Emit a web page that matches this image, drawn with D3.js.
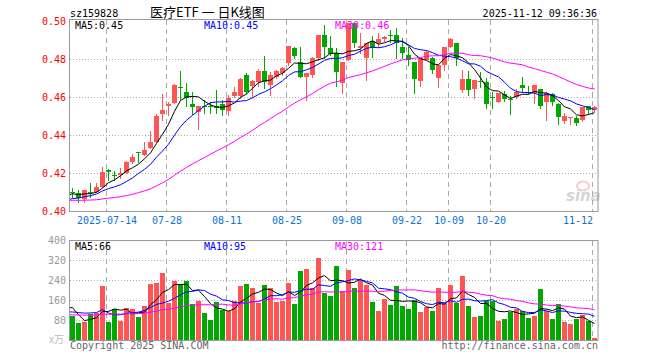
<!DOCTYPE html>
<html>
<head>
<meta charset="utf-8">
<script src="https://cdn.jsdelivr.net/npm/d3@7"></script>
<style>
  body { margin: 0; background: #fff; }
  svg { display: block; }
</style>
</head>
<body>
<svg id="chart" width="660" height="360"></svg>
<script>
// trading days shown, 2025-07-04 .. 2025-11-12
const dates = [
  '07-04','07-07','07-08','07-09','07-10','07-11','07-14','07-15','07-16','07-17',
  '07-18','07-21','07-22','07-23','07-24','07-25','07-28','07-29','07-30','07-31',
  '08-01','08-04','08-05','08-06','08-07','08-08','08-11','08-12','08-13','08-14',
  '08-15','08-18','08-19','08-20','08-21','08-22','08-25','08-26','08-27','08-28',
  '08-29','09-01','09-02','09-03','09-04','09-05','09-08','09-09','09-10','09-11',
  '09-12','09-15','09-16','09-17','09-18','09-19','09-22','09-23','09-24','09-25',
  '09-26','09-29','09-30','10-09','10-10','10-13','10-14','10-15','10-16','10-17',
  '10-20','10-21','10-22','10-23','10-24','10-27','10-28','10-29','10-30','10-31',
  '11-03','11-04','11-05','11-06','11-07','11-10','11-11','11-12'
];

const open = [
  .4098,.4096,.4063,.4100,.4098,.4125,.4214,.4188,.4188,.4202,
  .4258,.4309,.4293,.4333,.4365,.4509,.4555,.4570,.4651,.4625,
  .4565,.4523,.4553,.4555,.4553,.4564,.4528,.4605,.4605,.4716,
  .4658,.4681,.4739,.4663,.4704,.4725,.4777,.4860,.4786,.4707,
  .4716,.4804,.4926,.4860,.4830,.4675,.4795,.4988,.4856,.4807,
  .4896,.4882,.4904,.4928,.4926,.4865,.4821,.4786,.4684,.4795,
  .4804,.4698,.4768,.4865,.4882,.4637,.4693,.4640,.4684,.4677,
  .4600,.4575,.4616,.4590,.4598,.4663,.4628,.4619,.4640,.4575,
  .4616,.4563,.4475,.4488,.4488,.4479,.4553,.4532
];
const high = [
  .4123,.4110,.4110,.4146,.4150,.4233,.4221,.4212,.4225,.4263,
  .4298,.4312,.4365,.4421,.4509,.4615,.4572,.4668,.4737,.4672,
  .4626,.4553,.4584,.4575,.4638,.4584,.4611,.4651,.4700,.4728,
  .4689,.4747,.4816,.4733,.4740,.4760,.4868,.4865,.4865,.4728,
  .4809,.4926,.4979,.4921,.4856,.4786,.4991,.4991,.4935,.4882,
  .4921,.4935,.4921,.4953,.4961,.4909,.4865,.4786,.4804,.4847,
  .4812,.4768,.4865,.4909,.4882,.4742,.4735,.4690,.4733,.4700,
  .4628,.4623,.4630,.4605,.4640,.4707,.4660,.4663,.4640,.4628,
  .4620,.4570,.4518,.4496,.4500,.4546,.4553,.4555
];
const low = [
  .4075,.4046,.4046,.4075,.4098,.4125,.4163,.4163,.4172,.4202,
  .4251,.4260,.4293,.4333,.4365,.4479,.4505,.4570,.4590,.4555,
  .4510,.4430,.4514,.4514,.4514,.4505,.4505,.4600,.4593,.4619,
  .4602,.4660,.4646,.4611,.4700,.4716,.4768,.4804,.4704,.4584,
  .4704,.4795,.4804,.4821,.4658,.4623,.4795,.4865,.4830,.4690,
  .4812,.4865,.4896,.4891,.4803,.4803,.4768,.4623,.4658,.4795,
  .4728,.4651,.4742,.4865,.4768,.4628,.4610,.4596,.4650,.4540,
  .4543,.4575,.4580,.4510,.4596,.4628,.4615,.4570,.4540,.4480,
  .4560,.4458,.4462,.4458,.4453,.4475,.4510,.4528
];
const close = [
  .4094,.4067,.4110,.4096,.4125,.4207,.4207,.4184,.4202,.4258,
  .4286,.4305,.4321,.4361,.4502,.4532,.4565,.4663,.4646,.4596,
  .4545,.4553,.4549,.4550,.4540,.4534,.4594,.4626,.4696,.4628,
  .4686,.4739,.4677,.4716,.4739,.4754,.4868,.4818,.4707,.4728,
  .4804,.4926,.4865,.4826,.4733,.4786,.4991,.4882,.4868,.4882,
  .4856,.4903,.4918,.4924,.4882,.4833,.4795,.4693,.4804,.4839,
  .4742,.4768,.4865,.4904,.4804,.4693,.4635,.4688,.4682,.4565,
  .4598,.4623,.4588,.4586,.4628,.4646,.4624,.4663,.4553,.4619,
  .4575,.4496,.4500,.4496,.4465,.4546,.4532,.4549
];
// volume, x10k shares
const volume = [
  97,69,73,103,107,216,72,124,77,128,
  124,92,136,225,229,269,149,237,224,237,
  144,157,108,80,152,120,118,155,216,224,
  208,150,220,208,154,156,229,144,277,284,
  208,328,190,176,296,196,280,208,239,220,
  152,116,165,140,216,136,124,159,112,133,
  116,208,149,220,149,256,136,92,96,155,
  155,75,84,112,123,116,88,95,205,115,
  84,144,71,64,84,99,75,8
];
// sessions before 07-04 (not drawn), estimated from where the MA lines start
const priorClose = [
  .408,.408,.408,.408,.408,.408,.408,.408,.408,.408,
  .404,.404,.404,.404,.404,.404,.400,.400,.400,.400,
  .404,.404,.404,.404,.404,.409,.409,.409,.409
];
const priorVolume = [
  95,95,95,95,95,95,95,95,95,95,
  95,95,95,95,95,95,95,95,95,95,
  95,95,95,95,95,210,190,80,70
];

const priceTicks = [0.40, 0.42, 0.44, 0.46, 0.48, 0.50];
const volumeTicks = [80, 160, 240, 320, 400];
const dateTicks = ['07-14','07-28','08-11','08-25','09-08','09-22','10-09','10-20','11-12'];

const RED = '#ff5555', GREEN = '#00a800';
const MONO = '"DejaVu Sans Mono", monospace';
const maDefs = [
  { n: 5, color: '#000000', lx: 75 },
  { n: 10, color: '#0000ff', lx: 204 },
  { n: 30, color: '#ff00ff', lx: 335 }
];

const svg = d3.select('#chart');
const N = dates.length;
const L = 70, R = 598;
const x = d3.scaleLinear().domain([0, N]).range([L, R]);
const yP = d3.scaleLinear().domain([0.40, 0.50]).range([211, 21]);
const yV = d3.scaleLinear().domain([0, 400]).range([340, 240]);

const candles = dates.map((d, i) => ({
  i, d, o: open[i], h: high[i], l: low[i], c: close[i], v: volume[i],
  up: close[i] >= open[i]
}));

function movingAvg(prior, vals, n) {
  const all = prior.concat(vals), k = prior.length;
  return d3.range(-1, vals.length).map(i => {
    const end = k + i + 1;
    return { i, v: d3.mean(all.slice(Math.max(0, end - n), end)) };
  });
}

svg.append('rect').attr('width', 660).attr('height', 360).attr('fill', '#fff');

const defs = svg.append('defs');
defs.append('clipPath').attr('id', 'clipP')
  .append('rect').attr('x', L).attr('y', 19).attr('width', R - L).attr('height', 192);
defs.append('clipPath').attr('id', 'clipV')
  .append('rect').attr('x', L).attr('y', 240).attr('width', R - L).attr('height', 100);

// header
svg.append('text').attr('x', 70).attr('y', 17)
  .attr('font-family', MONO).attr('font-size', '10px').attr('fill', '#000')
  .text('sz159828');
svg.append('text').attr('x', 150).attr('y', 17)
  .attr('font-family', '"Noto Sans CJK SC", sans-serif').attr('font-size', '13px').attr('fill', '#000')
  .attr('xml:space', 'preserve')
  .text('医疗ETF 一 日K线图');
svg.append('text').attr('x', 597).attr('y', 17).attr('text-anchor', 'end')
  .attr('font-family', MONO).attr('font-size', '10px').attr('fill', '#000')
  .text('2025-11-12 09:36:36');

const tickIdx = dateTicks.map(t => dates.indexOf(t));

function drawGrid(yScale, hTicks, top, bottom) {
  const g = svg.append('g');
  g.selectAll('.hgrid').data(hTicks).enter().append('line')
    .attr('x1', L).attr('x2', R)
    .attr('y1', d => Math.round(yScale(d)) + 0.5)
    .attr('y2', d => Math.round(yScale(d)) + 0.5)
    .attr('stroke', '#aaa').attr('stroke-dasharray', '1,2');
  g.selectAll('.vgrid').data(tickIdx).enter().append('line')
    .attr('x1', d => x(d) + 0.5).attr('x2', d => x(d) + 0.5)
    .attr('y1', top).attr('y2', bottom)
    .attr('stroke', '#aaa').attr('stroke-dasharray', '5,4');
}

drawGrid(yP, [0.42, 0.44, 0.46, 0.48], 20, 211);
drawGrid(yV, [80, 160, 240, 320], 241, 340);

// sina watermark
const wm = svg.append('g').attr('opacity', 0.4);
wm.append('ellipse').attr('cx', 583).attr('cy', 186).attr('rx', 6).attr('ry', 4.5)
  .attr('fill', 'none').attr('stroke', '#f08080').attr('stroke-width', 2);
wm.append('text').attr('x', 566).attr('y', 201)
  .attr('font-family', '"DejaVu Sans", sans-serif').attr('font-size', '15px')
  .attr('font-weight', 'bold').attr('font-style', 'italic').attr('fill', '#999')
  .text('sina');

// candles
const gP = svg.append('g').attr('clip-path', 'url(#clipP)');
gP.selectAll('.wick').data(candles).enter().append('line')
  .attr('x1', d => x(d.i) + 2.5).attr('x2', d => x(d.i) + 2.5)
  .attr('y1', d => Math.round(yP(d.h))).attr('y2', d => Math.round(yP(d.l)) + 1)
  .attr('stroke', d => d.up ? RED : GREEN);
gP.selectAll('.body').data(candles).enter().append('rect')
  .attr('x', d => x(d.i)).attr('width', 5)
  .attr('y', d => Math.round(yP(Math.max(d.o, d.c))))
  .attr('height', d => Math.max(1, Math.round(yP(Math.min(d.o, d.c))) - Math.round(yP(Math.max(d.o, d.c)))))
  .attr('fill', d => d.up ? RED : GREEN);

// volume bars
const gV = svg.append('g').attr('clip-path', 'url(#clipV)');
gV.selectAll('.vol').data(candles).enter().append('rect')
  .attr('x', d => x(d.i)).attr('width', 5)
  .attr('y', d => Math.round(yV(d.v)))
  .attr('height', d => 340 - Math.round(yV(d.v)))
  .attr('fill', d => d.up ? RED : GREEN);

// moving averages
maDefs.forEach(m => {
  const pm = movingAvg(priorClose, close, m.n);
  const vm = movingAvg(priorVolume, volume, m.n);
  gP.append('path')
    .attr('d', d3.line().x(d => x(d.i) + 2.5).y(d => yP(d.v))(pm))
    .attr('fill', 'none').attr('stroke', m.color).attr('stroke-width', 1);
  gV.append('path')
    .attr('d', d3.line().x(d => x(d.i) + 2.5).y(d => yV(d.v))(vm))
    .attr('fill', 'none').attr('stroke', m.color).attr('stroke-width', 1);
  svg.append('text').attr('x', m.lx).attr('y', 29)
    .attr('font-family', MONO).attr('font-size', '10px').attr('fill', m.color)
    .text(`MA${m.n}:${d3.format('.2f')(pm[pm.length - 1].v)}`);
  svg.append('text').attr('x', m.lx).attr('y', 250)
    .attr('font-family', MONO).attr('font-size', '10px').attr('fill', m.color)
    .text(`MA${m.n}:${Math.round(vm[vm.length - 1].v)}`);
});

// frames
svg.append('rect').attr('x', 69.5).attr('y', 19.5).attr('width', R - L + 0.5).attr('height', 192)
  .attr('fill', 'none').attr('stroke', '#999');
svg.append('rect').attr('x', 69.5).attr('y', 240.5).attr('width', R - L + 0.5).attr('height', 100)
  .attr('fill', 'none').attr('stroke', '#999');

// axes
const axP = svg.append('g').attr('transform', `translate(${L},0)`)
  .call(d3.axisLeft(yP).tickValues(priceTicks).tickFormat(d3.format('.2f')).tickSize(0).tickPadding(4));
axP.select('.domain').remove();
axP.selectAll('text').attr('fill', '#ff0000').attr('font-family', MONO).attr('font-size', '10px');

const axV = svg.append('g').attr('transform', `translate(${L},0)`)
  .call(d3.axisLeft(yV).tickValues(volumeTicks).tickFormat(d3.format('d')).tickSize(0).tickPadding(4));
axV.select('.domain').remove();
axV.selectAll('text').attr('fill', '#999').attr('font-family', MONO).attr('font-size', '10px');
svg.append('text').attr('x', 49).attr('y', 343)
  .attr('font-family', '"Noto Sans CJK SC", sans-serif').attr('font-size', '10px').attr('fill', '#bbb')
  .text('x万');

const axX = svg.append('g').attr('transform', 'translate(0.5,211)')
  .call(d3.axisBottom(x).tickValues(tickIdx)
    .tickFormat(i => i === tickIdx[0] ? '2025-' + dates[i] : dates[i])
    .tickSize(0).tickPadding(6));
axX.select('.domain').remove();
axX.selectAll('text').attr('fill', '#0a74d6').attr('font-family', MONO).attr('font-size', '10px');
// the last label would run past the frame, so it ends at the gridline instead
axX.selectAll('.tick').filter(i => i === tickIdx[tickIdx.length - 1])
  .select('text').attr('text-anchor', 'end');

// footer
svg.append('text').attr('x', 70).attr('y', 349)
  .attr('font-family', MONO).attr('font-size', '10px').attr('fill', '#666')
  .text('Copyright 2025 SINA.COM');
svg.append('text').attr('x', 598).attr('y', 349).attr('text-anchor', 'end')
  .attr('font-family', MONO).attr('font-size', '10px').attr('fill', '#666')
  .text('http://finance.sina.com.cn');
</script>
</body>
</html>
